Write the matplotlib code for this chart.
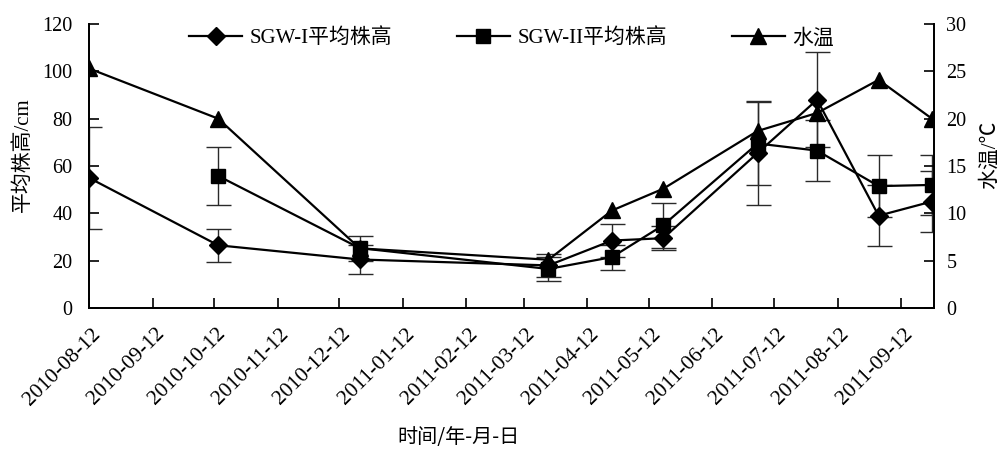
import numpy as np
import pandas as pd
import matplotlib
matplotlib.use("Agg")
import matplotlib.pyplot as plt
from matplotlib.lines import Line2D
import matplotlib.transforms as mtransforms

plt.rcParams['font.family'] = ['Liberation Serif', 'Noto Sans CJK SC']
plt.rcParams['axes.unicode_minus'] = False

# Sampling dates
dates = pd.to_datetime([
    '2010-08-12', '2010-10-14', '2010-12-22', '2011-03-24', '2011-04-24',
    '2011-05-19', '2011-07-04', '2011-08-02', '2011-09-01', '2011-09-27'])

# Mean plant height (cm) with standard deviations
sgw1_height = [55, 26.5, 20.5, 18, 28.5, 29.5, 65.5, 88, 39, 45]
sgw1_err = [21.5, 7, 6, 5, 7, 5, 22, 20, 13, 13]
sgw2_height = [np.nan, 55.8, 25.3, 16.5, 21.5, 35, 69.5, 66.5, 51.5, 52]
sgw2_err = [np.nan, 12.3, 5.3, 5, 5.3, 9.5, 17.5, 13, 13, 12.5]

# Water temperature (°C)
water_temp = [25.3, 20, 6.3, 5.1, 10.3, 12.6, 18.7, 20.6, 24.1, 20]

tick_dates = pd.date_range('2010-08-12', '2011-09-12', freq=pd.DateOffset(months=1))
tick_labels = [d.strftime('%Y-%m-%d') for d in tick_dates]

legend_labels = ['SGW-I平均株高', 'SGW-II平均株高', '水温']

fig = plt.figure(figsize=(10.03, 4.5), dpi=100)
ax = fig.add_axes([89 / 1003, 1 - 308 / 450, (934 - 89) / 1003, (308 - 24) / 450])
ax2 = ax.twinx()

line_kw = dict(color='black', lw=1.6)
err_kw = dict(ecolor='#2a2a2a', elinewidth=1.0, capsize=9, capthick=1.0)

ax.errorbar(dates, sgw1_height, yerr=sgw1_err, marker='D', ms=9.5, mfc='black',
            mec='black', zorder=3, **line_kw, **err_kw)
ax.errorbar(dates, sgw2_height, yerr=sgw2_err, marker='s', ms=10.5, mfc='black',
            mec='black', zorder=3, **line_kw, **err_kw)
ax2.plot(dates, water_temp, marker='^', ms=11.5, mfc='black', mec='black', **line_kw)

ax.set_xlim(pd.Timestamp('2010-08-12'), pd.Timestamp('2011-09-28'))
ax.set_ylim(0, 120)
ax2.set_ylim(0, 30)
ax.set_yticks(np.arange(0, 121, 20))
ax2.set_yticks(np.arange(0, 31, 5))

for a in (ax, ax2):
    a.spines['top'].set_visible(False)
    for s in a.spines.values():
        s.set_linewidth(1.3)
ax.tick_params(axis='y', direction='in', length=7, width=1.2, labelsize=14.5, pad=12)
ax.tick_params(axis='x', direction='in', length=7, width=1.2, pad=4)
ax2.tick_params(axis='y', direction='in', length=7, width=1.2, labelsize=14.5, pad=9)

ax.set_xticks(tick_dates)
ax.set_xticklabels(tick_labels, rotation=45, ha='right', va='top',
                   rotation_mode='anchor', fontsize=15.5)
# nudge the slanted date labels so their ends sit just right of each tick
offset = mtransforms.ScaledTranslation(2 / 100, -11 / 100, fig.dpi_scale_trans)
for lbl in ax.get_xticklabels():
    lbl.set_transform(lbl.get_transform() + offset)

ax.set_ylabel('平均株高/cm', fontsize=15)
ax.yaxis.set_label_coords(-0.066, 0.54)
ax2.set_ylabel('水温/℃', fontsize=15, rotation=90, va='center', ha='center')
ax2.yaxis.set_label_coords(1.066, 0.54)
fig.text(459 / 1003, 1 - 437 / 450, '时间/年-月-日', ha='center', va='center',
         fontsize=14.5, family=['Noto Sans CJK SC'])

handles = [
    Line2D([], [], marker='D', ms=9.5, mfc='black', **line_kw),
    Line2D([], [], marker='s', ms=10.5, mfc='black', **line_kw),
    Line2D([], [], marker='^', ms=11.5, mfc='black', **line_kw),
]
ax.legend(handles, legend_labels, loc='upper center', bbox_to_anchor=(0.5, 1.05),
          ncol=3, frameon=False, fontsize=15, handlelength=2.55,
          columnspacing=3.1, handletextpad=0.35)

fig.savefig('out.png', dpi=100)
